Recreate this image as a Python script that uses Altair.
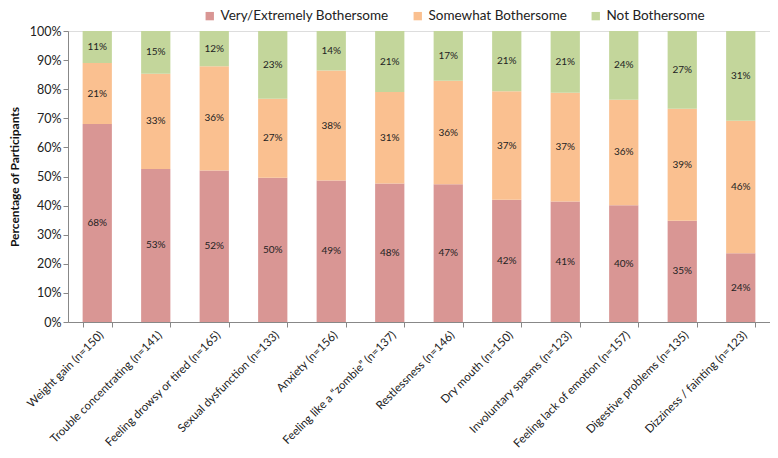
import altair as alt
import pandas as pd

symptoms = [
    "Weight gain (n=150)", "Trouble concentrating (n=141)", "Feeling drowsy or tired (n=165)",
    "Sexual dysfunction (n=133)", "Anxiety (n=156)", "Feeling like a \u201czombie\u201d (n=137)",
    "Restlessness (n=146)", "Dry mouth (n=150)", "Involuntary spasms (n=123)",
    "Feeling lack of emotion (n=157)", "Digestive problems (n=135)", "Dizziness / fainting (n=123)",
]
very = [68.0, 52.6, 52.1, 49.6, 48.6, 47.6, 47.3, 42.0, 41.4, 40.1, 34.8, 23.6]
somewhat = [21.0, 32.7, 35.8, 27.1, 37.8, 31.4, 35.6, 37.3, 37.4, 36.3, 38.5, 45.6]
notb = [11.0, 14.7, 12.1, 23.3, 13.6, 21.0, 17.1, 20.7, 21.2, 23.6, 26.7, 30.8]
yticks = [0, 10, 20, 30, 40, 50, 60, 70, 80, 90, 100]

series = ["Very/Extremely Bothersome", "Somewhat Bothersome", "Not Bothersome"]
colors = ["#D99694", "#FAC090", "#C3D69B"]

rows = []
for i, s in enumerate(symptoms):
    for k, (name, vals) in enumerate(zip(series, [very, somewhat, notb])):
        rows.append({"symptom": s, "series": name, "value": vals[i], "order": k})
df = pd.DataFrame(rows)

FONT = "Lato"

base = alt.Chart(df).transform_stack(
    stack="value", groupby=["symptom"], as_=["y0", "y1"],
    sort=[alt.SortField("order", "ascending")]
).transform_calculate(mid="(datum.y0 + datum.y1) / 2",
                      lbl="format(datum.value, '.0f') + '%'")

xaxis = alt.Axis(labelAngle=-45, labelAlign="right", labelBaseline="top",
                 labelFontSize=11.5, labelColor="#222", labelFont=FONT,
                 tickBand="extent", tickSize=5, tickColor="#888",
                 domainColor="#888", labelPadding=2, labelLimit=300)
xscale = alt.Scale(paddingInner=0.5, paddingOuter=0.25)

yscale = alt.Scale(domain=[0, 100], nice=False)
yaxis = alt.Axis(values=yticks, labelExpr="datum.value + '%'",
                 labelOverlap=False,
                 grid=False, tickSize=5, tickColor="#888", domainColor="#888",
                 labelFontSize=12.5, labelColor="#222", labelFont=FONT,
                 titleFont=FONT, titleFontSize=12, titleFontWeight="bold",
                 titleColor="#111", titlePadding=8)
ytitle = "Percentage of Participants"

bars = base.mark_bar().encode(
    x=alt.X("symptom:N", sort=symptoms, title=None, scale=xscale, axis=xaxis),
    y=alt.Y("y0:Q", title=ytitle, scale=yscale, axis=yaxis),
    y2="y1:Q",
    color=alt.Color("series:N", sort=series,
                    scale=alt.Scale(domain=series, range=colors),
                    legend=alt.Legend(title=None, orient="none", direction="horizontal",
                                      legendX=135, legendY=-22, symbolType="square",
                                      symbolSize=70, symbolStrokeWidth=0,
                                      labelFontSize=13.5, labelFont=FONT, labelColor="#222",
                                      labelLimit=300, columnPadding=22)),
)

labels = base.mark_text(fontSize=10, font=FONT, color="#222").encode(
    x=alt.X("symptom:N", sort=symptoms, title=None, scale=xscale, axis=xaxis),
    y=alt.Y("mid:Q", title=ytitle, scale=yscale, axis=yaxis),
    text="lbl:N",
)

chart = alt.layer(bars, labels).properties(
    width=762, height=442,
    autosize=alt.AutoSizeParams(type="fit", contains="padding"),
    padding={"left": 0, "top": 17, "right": 0, "bottom": 0},
).configure_view(stroke=None).configure(background="white")

chart.save("out.html", embed_options={"renderer": "svg", "actions": False})
